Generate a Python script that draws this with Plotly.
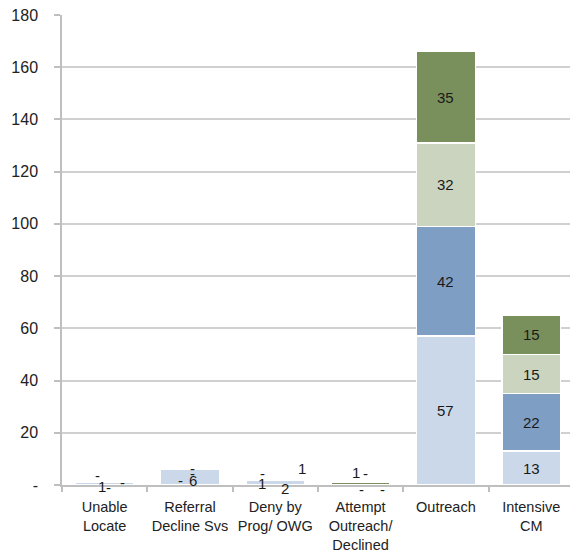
import plotly.graph_objects as go
import math

categories = ["Unable<br>Locate", "Referral<br>Decline Svs", "Deny by<br>Prog/ OWG",
              "Attempt<br>Outreach/<br>Declined", "Outreach", "Intensive<br>CM"]
series1 = [1, 6, 2, 0, 57, 13]
series2 = [0, 0, 0.5, 0, 42, 22]
series3 = [0, 0, 0.5, 0, 32, 15]
series4 = [0, 0, 0, 1, 35, 15]
series_names = ["Series 1", "Series 2", "Series 3", "Series 4"]
colors = ["#CBD8E9", "#7F9EC4", "#CBD4BF", "#7A905C"]
ytick_vals = [0, 20, 40, 60, 80, 100, 120, 140, 160, 180]
ytick_text = ["-", "20", "40", "60", "80", "100", "120", "140", "160", "180"]

all_series = [series1, series2, series3, series4]

# label pixel offsets for the crowded small bars (category index, series index)
offsets = {
    (0, 0): (-3, -3), (0, 1): (4, -5), (0, 2): (-7, 7), (0, 3): (18, 0),
    (1, 0): (3, -3), (1, 1): (-9, -11), (1, 2): (3, -4), (1, 3): (3, 1),
    (2, 0): (10, -6), (2, 1): (-13, -4), (2, 2): (27, 9), (2, 3): (-13, 4),
    (3, 0): (1, -4), (3, 1): (22, -4), (3, 2): (5, 12), (3, 3): (-5, 11),
}

FONT = "Liberation Sans, Arial, sans-serif"

def fmt(v):
    return "-" if v == 0 else str(int(math.floor(v + 0.5)))

fig = go.Figure()
for name, vals, col in zip(series_names, all_series, colors):
    fig.add_trace(go.Bar(
        x=categories, y=vals, name=name,
        marker=dict(color=col, line=dict(color="white", width=1.5)),
        hoverinfo="skip",
    ))

annotations = []
for i, cat in enumerate(categories):
    cum = 0
    for j, vals in enumerate(all_series):
        v = vals[i]
        mid = cum + v / 2
        cum += v
        xs, ys = offsets.get((i, j), (0, 0))
        annotations.append(dict(
            x=cat, y=mid, xref="x", yref="y", text=fmt(v), showarrow=False,
            xshift=xs, yshift=ys,
            font=dict(family=FONT, size=15, color="#1a1a1a"),
        ))

fig.update_layout(
    barmode="stack",
    bargap=0.31,
    width=570, height=556,
    margin=dict(l=62, r=0, t=15, b=71),
    paper_bgcolor="white", plot_bgcolor="white",
    showlegend=False,
    annotations=annotations,
    font=dict(family=FONT, color="#222222"),
)
fig.update_xaxes(
    range=[-0.5, 5.455],
    showline=True, linecolor="#BFBFBF", linewidth=1.5,
    ticks="outside", tickson="boundaries", ticklen=5, tickcolor="#BFBFBF", tickwidth=1.5,
    tickfont=dict(size=14.5, color="#222222"),
    tickangle=0, automargin=False,
    ticklabelstandoff=8,
    showgrid=False,
)
fig.update_yaxes(
    range=[0, 180],
    tickvals=ytick_vals, ticktext=ytick_text,
    showline=True, linecolor="#BFBFBF", linewidth=1.5,
    ticks="outside", ticklen=6, tickcolor="#BFBFBF", tickwidth=1.5,
    showgrid=True, gridcolor="#D0D0D0", gridwidth=1.5,
    tickfont=dict(size=16, color="#222222"),
    ticklabelstandoff=13, automargin=False,
    zeroline=False,
)

fig.write_html("out.html", config={"displayModeBar": False},
               post_script="document.body.style.margin='0';document.body.style.overflow='hidden';")
